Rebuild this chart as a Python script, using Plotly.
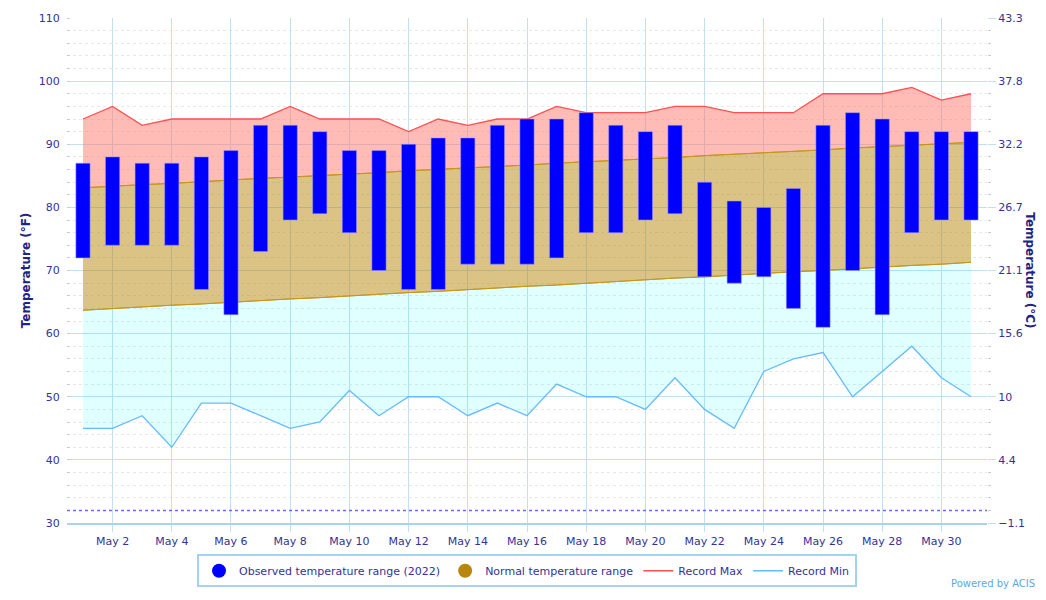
import plotly.graph_objects as go

days = list(range(1, 32))
tick_days = list(range(2, 31, 2))
tick_labels = [f"May {d}" for d in tick_days]

obs_high = [87, 88, 87, 87, 88, 89, 93, 93, 92, 89, 89, 90, 91, 91, 93, 94,
            94, 95, 93, 92, 93, 84, 81, 80, 83, 93, 95, 94, 92, 92, 92]
obs_low = [72, 74, 74, 74, 67, 63, 73, 78, 79, 76, 70, 67, 67, 71, 71, 71,
           72, 76, 76, 78, 79, 69, 68, 69, 64, 61, 70, 63, 76, 78, 78]
normal_high = [83.1, 83.4, 83.6, 83.8, 84.1, 84.3, 84.6, 84.8, 85.0, 85.3, 85.5,
               85.8, 86.0, 86.2, 86.5, 86.7, 87.0, 87.2, 87.4, 87.7, 87.9, 88.2,
               88.4, 88.6, 88.9, 89.1, 89.4, 89.6, 89.8, 90.1, 90.3]
normal_low = [63.7, 64.0, 64.2, 64.5, 64.7, 65.0, 65.2, 65.5, 65.7, 66.0, 66.2,
              66.5, 66.7, 67.0, 67.2, 67.5, 67.7, 68.0, 68.2, 68.5, 68.8, 69.0,
              69.3, 69.5, 69.8, 70.0, 70.3, 70.5, 70.8, 71.0, 71.3]
record_max = [94, 96, 93, 94, 94, 94, 94, 96, 94, 94, 94, 92, 94, 93, 94, 94,
              96, 95, 95, 95, 96, 96, 95, 95, 95, 98, 98, 98, 99, 97, 98]
record_min = [45, 45, 47, 42, 49, 49, 47, 45, 46, 51, 47, 50, 50, 47, 49, 47,
              52, 50, 50, 48, 53, 48, 45, 54, 56, 57, 50, 54, 58, 53, 50]

f_ticks = [30, 40, 50, 60, 70, 80, 90, 100, 110]
c_labels = ["\u22121.1", "4.4", "10", "15.6", "21.1", "26.7", "32.2", "37.8", "43.3"]
freezing = 32

NAVY = "#333399"
TITLE = "#23237f"
GRID = "#c4def2"
GOLD_LINE = "#c8961e"
FONT = "DejaVu Sans"

# page offset (browser body margin) compensation: page = figure + 8
OFF = 8
PL, PR, PT, PB = 67, 987, 17.7, 522.7   # plot area in page pixels
W, H = 1046 - 2 * OFF, 600 - 2 * OFF


def px(xp):
    return (xp - PL) / (PR - PL)


def py(yp):
    return (PB - yp) / (PB - PT)


fig = go.Figure()

# pink: record max down to normal high
fig.add_trace(go.Scatter(x=days, y=normal_high, mode="lines",
                         line=dict(color=GOLD_LINE, width=1), showlegend=False,
                         hoverinfo="skip"))
fig.add_trace(go.Scatter(x=days, y=record_max, mode="lines", fill="tonexty",
                         fillcolor="rgba(255,120,110,0.5)",
                         line=dict(color="#ff5050", width=1.3), showlegend=False,
                         hoverinfo="skip"))
# tan: normal range
fig.add_trace(go.Scatter(x=days, y=normal_low, mode="lines",
                         line=dict(color=GOLD_LINE, width=1), showlegend=False,
                         hoverinfo="skip"))
fig.add_trace(go.Scatter(x=days, y=normal_high, mode="lines", fill="tonexty",
                         fillcolor="rgba(184,134,11,0.5)",
                         line=dict(color=GOLD_LINE, width=1), showlegend=False,
                         hoverinfo="skip"))
# cyan: record min up to normal low
fig.add_trace(go.Scatter(x=days, y=record_min, mode="lines",
                         line=dict(color="#66bbff", width=1.3), showlegend=False,
                         hoverinfo="skip"))
fig.add_trace(go.Scatter(x=days, y=normal_low, mode="lines", fill="tonexty",
                         fillcolor="rgba(0,255,255,0.12)",
                         line=dict(color=GOLD_LINE, width=1), showlegend=False,
                         hoverinfo="skip"))

# observed bars on an overlaying subplot so they sit above the fills
fig.add_trace(go.Bar(x=days, base=obs_low,
                     y=[h - l for h, l in zip(obs_high, obs_low)],
                     xaxis="x2", yaxis="y2",
                     width=0.48, marker=dict(color="#0000ff",
                                             line=dict(color="rgba(150,150,255,0.9)", width=0.6)),
                     showlegend=False, hoverinfo="skip"))

# legend proxies
fig.add_trace(go.Scatter(x=[None], y=[None], mode="markers",
                         marker=dict(color="#0000ff", size=14, symbol="circle"),
                         name="Observed temperature range (2022)"))
fig.add_trace(go.Scatter(x=[None], y=[None], mode="markers",
                         marker=dict(color="#b8860b", size=14, symbol="circle"),
                         name="Normal temperature range"))
fig.add_trace(go.Scatter(x=[None], y=[None], mode="lines",
                         line=dict(color="#ff5050", width=1.5), name="Record Max"))
fig.add_trace(go.Scatter(x=[None], y=[None], mode="lines",
                         line=dict(color="#66bbff", width=1.5), name="Record Min"))

xrange = [0.46, 31.54]

fig.update_layout(
    width=W, height=H,
    margin=dict(l=PL - OFF, r=W - (PR - OFF), t=PT - OFF, b=H - (PB - OFF), pad=0,
                autoexpand=False),
    paper_bgcolor="white", plot_bgcolor="white",
    font=dict(family=FONT, size=11, color=NAVY),
    barmode="overlay",
    xaxis=dict(range=xrange, tickvals=tick_days, ticktext=tick_labels,
               showgrid=True, gridcolor=GRID, gridwidth=1,
               ticks="outside", ticklen=7, tickcolor=GRID,
               showline=True, linecolor="#a8d2f0", linewidth=2,
               zeroline=False, tickfont=dict(size=11, color=NAVY)),
    xaxis2=dict(range=xrange, overlaying="x", visible=False),
    yaxis=dict(range=[30, 110], tickvals=f_ticks,
               showgrid=True, gridcolor=GRID, gridwidth=1,
               ticks="outside", ticklen=4, tickcolor="white",
               zeroline=False, tickfont=dict(size=11, color=NAVY),
               minor=dict(dtick=2, tick0=30, showgrid=True, gridcolor="#e8e8e8",
                          griddash="dot", ticks="inside", ticklen=3,
                          tickcolor="#cccccc")),
    yaxis2=dict(range=[30, 110], overlaying="y", side="right", anchor="x",
                tickvals=f_ticks, ticktext=c_labels, showgrid=False,
                ticks="outside", ticklen=8, tickcolor=GRID,
                zeroline=False, tickfont=dict(size=11, color=NAVY),
                minor=dict(dtick=2, tick0=30, ticks="outside", ticklen=3,
                           tickcolor="#cccccc")),
    legend=dict(orientation="h", x=0.5, xanchor="center", y=py(570.5),
                yanchor="middle", bordercolor="#a6d2f2", borderwidth=2,
                bgcolor="white", font=dict(size=11, color=NAVY),
                itemwidth=30, traceorder="normal"),
    shapes=[
        dict(type="line", xref="paper", x0=0, x1=1, yref="y", y0=freezing,
             y1=freezing, line=dict(color="#6a6aff", width=1.5, dash="dot")),
    ],
    annotations=[
        dict(text="<b>Temperature (°F)</b>", xref="paper", yref="paper",
             x=px(26), y=py(270), textangle=-90,
             showarrow=False, xanchor="center", yanchor="middle",
             font=dict(size=12, color=TITLE, family=FONT)),
        dict(text="<b>Temperature (°C)</b>", xref="paper", yref="paper",
             x=px(1030), y=py(270), textangle=90,
             showarrow=False, xanchor="center", yanchor="middle",
             font=dict(size=12, color=TITLE, family=FONT)),
        dict(text="Powered by ACIS", xref="paper", yref="paper",
             x=px(1037), y=py(591), showarrow=False,
             xanchor="right", yanchor="bottom",
             font=dict(size=10, color="#5aaae6", family=FONT)),
    ],
)

fig.write_html("out.html")
